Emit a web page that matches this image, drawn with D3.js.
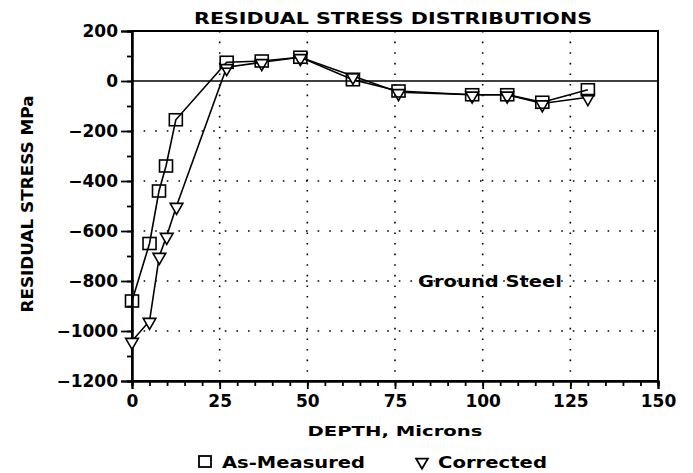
<!DOCTYPE html>
<html>
<head>
<meta charset="utf-8">
<script src="https://cdn.jsdelivr.net/npm/d3@7"></script>
<style>
  body { margin: 0; background: #fff; }
  text { font-family: "DejaVu Sans", Verdana, sans-serif; font-weight: bold; fill: #000; }
</style>
</head>
<body>
<div id="chart"></div>
<script>
// data
var depthMeasured = [0, 5, 7.7, 9.7, 12.5, 27, 37, 48, 63, 76, 97, 107, 117, 130];
var stressMeasured = [-880, -650, -440, -340, -155, 75, 80, 95, 5, -40, -55, -55, -85, -35];
var depthCorrected = [0, 5, 7.8, 9.9, 12.7, 27, 37, 48, 63, 76, 97, 107, 117, 130];
var stressCorrected = [-1040, -960, -700, -620, -500, 55, 75, 95, 20, -45, -55, -55, -90, -65];
var xTicks = [0, 25, 50, 75, 100, 125, 150];
var yTicks = [200, 0, -200, -400, -600, -800, -1000, -1200];

// set the dimensions and margins of the graph
var margin = {top: 31, right: 35, bottom: 92, left: 132},
    width = 693 - margin.left - margin.right,
    height = 473 - margin.top - margin.bottom;

var x = d3.scaleLinear().domain([0, 150]).range([0, width]);
var y = d3.scaleLinear().domain([-1200, 200]).range([height, 0]);

var svg = d3.select("#chart")
  .append("svg")
    .attr("width", 693)
    .attr("height", 473);

var g = svg.append("g")
    .attr("transform", "translate(" + margin.left + "," + margin.top + ")");

// dotted grid
g.selectAll(".vgrid")
    .data(xTicks.slice(1, -1))
    .enter().append("line")
    .attr("x1", function(d) { return x(d); })
    .attr("x2", function(d) { return x(d); })
    .attr("y1", 0).attr("y2", height)
    .attr("stroke", "#000").attr("stroke-width", 1.6)
    .attr("stroke-dasharray", "1.6,9");

g.selectAll(".hgrid")
    .data(yTicks.filter(function(d) { return d < 0 && d > -1200; }))
    .enter().append("line")
    .attr("x1", 0).attr("x2", width)
    .attr("y1", function(d) { return y(d); })
    .attr("y2", function(d) { return y(d); })
    .attr("stroke", "#000").attr("stroke-width", 1.6)
    .attr("stroke-dasharray", "1.6,10");

// zero line
g.append("line")
    .attr("x1", 0).attr("x2", width)
    .attr("y1", y(0)).attr("y2", y(0))
    .attr("stroke", "#000").attr("stroke-width", 1.6);

// frame
g.append("rect")
    .attr("width", width).attr("height", height)
    .attr("fill", "none").attr("stroke", "#000").attr("stroke-width", 2);

// minor ticks
g.append("g")
    .attr("class", "axis")
    .attr("transform", "translate(0," + height + ")")
    .call(d3.axisBottom(x).tickValues(d3.range(0, 151, 5)).tickSize(5).tickFormat(""));
g.append("g")
    .attr("class", "axis")
    .call(d3.axisLeft(y).tickValues(d3.range(-1200, 201, 100)).tickSize(5).tickFormat(""));

// major ticks + labels
g.append("g")
    .attr("class", "axis")
    .attr("transform", "translate(0," + height + ")")
    .call(d3.axisBottom(x).tickValues(xTicks).tickSize(8).tickPadding(6).tickFormat(d3.format("d")));
g.append("g")
    .attr("class", "axis")
    .call(d3.axisLeft(y).tickValues(yTicks).tickSize(11).tickPadding(3).tickFormat(function(d) { return d < 0 ? "\u2212" + (-d) : d; }));

svg.selectAll(".axis path").attr("stroke", "#000").attr("stroke-width", 2);
svg.selectAll(".axis line").attr("stroke", "#000").attr("stroke-width", 1.8);
svg.selectAll(".axis text")
    .style("font-family", "DejaVu Sans, sans-serif")
    .style("font-weight", "bold")
    .style("font-size", "17px")
    .attr("fill", "#000");

// series
var line = d3.line()
    .x(function(d) { return x(d[0]); })
    .y(function(d) { return y(d[1]); });

var measured = d3.zip(depthMeasured, stressMeasured);
var corrected = d3.zip(depthCorrected, stressCorrected);

g.append("path").datum(corrected).attr("d", line)
    .attr("fill", "none").attr("stroke", "#000").attr("stroke-width", 1.6);
g.append("path").datum(measured).attr("d", line)
    .attr("fill", "none").attr("stroke", "#000").attr("stroke-width", 1.6);

var tri = d3.symbol().type(d3.symbolTriangle).size(70);
g.selectAll(".tri")
    .data(corrected)
    .enter().append("path")
    .attr("d", tri)
    .attr("transform", function(d) { return "translate(" + x(d[0]) + "," + (y(d[1]) + 1) + ") rotate(180)"; })
    .attr("fill", "#fff").attr("stroke", "#000").attr("stroke-width", 1.6);

g.selectAll(".sq")
    .data(measured)
    .enter().append("rect")
    .attr("x", function(d) { return x(d[0]) - 6.5; })
    .attr("y", function(d) { return y(d[1]) - 6; })
    .attr("width", 13).attr("height", 12)
    .attr("fill", "none").attr("stroke", "#000").attr("stroke-width", 1.6);

// texts
svg.append("text")
    .attr("x", 393).attr("y", 24)
    .attr("text-anchor", "middle")
    .attr("textLength", 398).attr("lengthAdjust", "spacingAndGlyphs")
    .style("font-size", "16px")
    .text("RESIDUAL STRESS DISTRIBUTIONS");

svg.append("text")
    .attr("transform", "translate(33,204) rotate(-90)")
    .attr("text-anchor", "middle")
    .attr("textLength", 217).attr("lengthAdjust", "spacingAndGlyphs")
    .style("font-size", "15px")
    .text("RESIDUAL STRESS MPa");

svg.append("text")
    .attr("x", 395).attr("y", 436)
    .attr("text-anchor", "middle")
    .attr("textLength", 175).attr("lengthAdjust", "spacingAndGlyphs")
    .style("font-size", "14px")
    .text("DEPTH, Microns");

svg.append("text")
    .attr("x", 418).attr("y", 287)
    .attr("textLength", 144).attr("lengthAdjust", "spacingAndGlyphs")
    .style("font-size", "15px")
    .text("Ground Steel");

// legend
var legend = svg.append("g");
legend.append("rect")
    .attr("x", 199).attr("y", 456).attr("width", 12).attr("height", 11)
    .attr("fill", "none").attr("stroke", "#000").attr("stroke-width", 1.8);
legend.append("text")
    .attr("x", 222).attr("y", 468)
    .attr("textLength", 143).attr("lengthAdjust", "spacingAndGlyphs")
    .style("font-size", "15px")
    .text("As-Measured");
legend.append("path")
    .attr("d", d3.symbol().type(d3.symbolTriangle).size(60))
    .attr("transform", "translate(422,462) rotate(180)")
    .attr("fill", "none").attr("stroke", "#000").attr("stroke-width", 1.8);
legend.append("text")
    .attr("x", 438).attr("y", 468)
    .attr("textLength", 109).attr("lengthAdjust", "spacingAndGlyphs")
    .style("font-size", "15px")
    .text("Corrected");
</script>
</body>
</html>
